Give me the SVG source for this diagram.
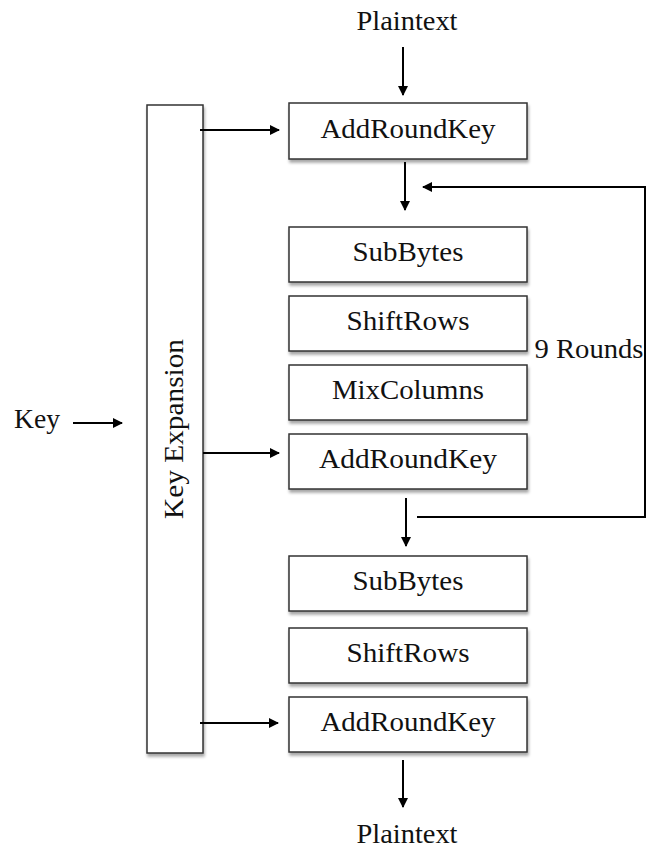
<svg xmlns="http://www.w3.org/2000/svg" width="646" height="848" viewBox="0 0 646 848">
<defs>
<marker id="ah" markerWidth="10" markerHeight="10" refX="9" refY="5" orient="auto" markerUnits="userSpaceOnUse">
<path d="M0,0 L10,5 L0,10 Z" fill="#000"/>
</marker>
<filter id="sh" x="-10%" y="-10%" width="130%" height="140%">
<feDropShadow dx="1" dy="3" stdDeviation="1.5" flood-color="#000" flood-opacity="0.35"/>
</filter>
</defs>
<style>
.box{fill:#fff;stroke:#333;stroke-width:1.5;filter:url(#sh)}
.t{font-family:"Liberation Serif","Times New Roman",serif;font-size:27px;fill:#111;text-anchor:middle}
.c{stroke:#000;stroke-width:2;fill:none}
.a{marker-end:url(#ah)}
</style>
<rect width="646" height="848" fill="#fff"/>
<g id="keyexp">
<rect class="box" x="147" y="105" width="56" height="648"/>
<text class="t" transform="translate(183,429) rotate(-90)" x="0" y="0" textLength="180" lengthAdjust="spacingAndGlyphs">Key Expansion</text>
</g>
<g id="ark1"><rect class="box" x="289" y="103" width="238" height="56"/><text class="t" x="408" y="138" textLength="175" lengthAdjust="spacingAndGlyphs">AddRoundKey</text></g>
<g id="sb1"><rect class="box" x="289" y="227" width="238" height="55"/><text class="t" x="408" y="261" textLength="111" lengthAdjust="spacingAndGlyphs">SubBytes</text></g>
<g id="sr1"><rect class="box" x="289" y="296" width="238" height="55"/><text class="t" x="408" y="330" textLength="123" lengthAdjust="spacingAndGlyphs">ShiftRows</text></g>
<g id="mc"><rect class="box" x="289" y="365" width="238" height="55"/><text class="t" x="408" y="399" textLength="152" lengthAdjust="spacingAndGlyphs">MixColumns</text></g>
<g id="ark2"><rect class="box" x="289" y="434" width="238" height="55"/><text class="t" x="408" y="468" textLength="178" lengthAdjust="spacingAndGlyphs">AddRoundKey</text></g>
<g id="sb2"><rect class="box" x="289" y="556" width="238" height="55"/><text class="t" x="408" y="590" textLength="111" lengthAdjust="spacingAndGlyphs">SubBytes</text></g>
<g id="sr2"><rect class="box" x="289" y="628" width="238" height="55"/><text class="t" x="408" y="662" textLength="123" lengthAdjust="spacingAndGlyphs">ShiftRows</text></g>
<g id="ark3"><rect class="box" x="289" y="697" width="238" height="55"/><text class="t" x="408" y="731" textLength="175" lengthAdjust="spacingAndGlyphs">AddRoundKey</text></g>
<g id="pt-in"><text class="t" x="407" y="30" textLength="101" lengthAdjust="spacingAndGlyphs">Plaintext</text></g>
<g id="pt-out"><text class="t" x="407" y="843" textLength="101" lengthAdjust="spacingAndGlyphs">Plaintext</text></g>
<g id="key"><text class="t" x="37" y="428" textLength="46" lengthAdjust="spacingAndGlyphs">Key</text></g>
<g id="rounds"><text class="t" x="589" y="358" textLength="109" lengthAdjust="spacingAndGlyphs">9 Rounds</text></g>
<g id="connectors">
<line class="c a" x1="403" y1="47" x2="403" y2="95"/>
<line class="c a" x1="200" y1="130" x2="279" y2="130"/>
<line class="c a" x1="405" y1="162" x2="405" y2="210"/>
<polyline class="c a" points="417,517 645,517 645,187 423,187"/>
<line class="c a" x1="406" y1="498" x2="406" y2="546"/>
<line class="c a" x1="73" y1="423" x2="122" y2="423"/>
<line class="c a" x1="203" y1="453" x2="279" y2="453"/>
<line class="c a" x1="200" y1="723" x2="278" y2="723"/>
<line class="c a" x1="403" y1="760" x2="403" y2="807"/>
</g>
</svg>
